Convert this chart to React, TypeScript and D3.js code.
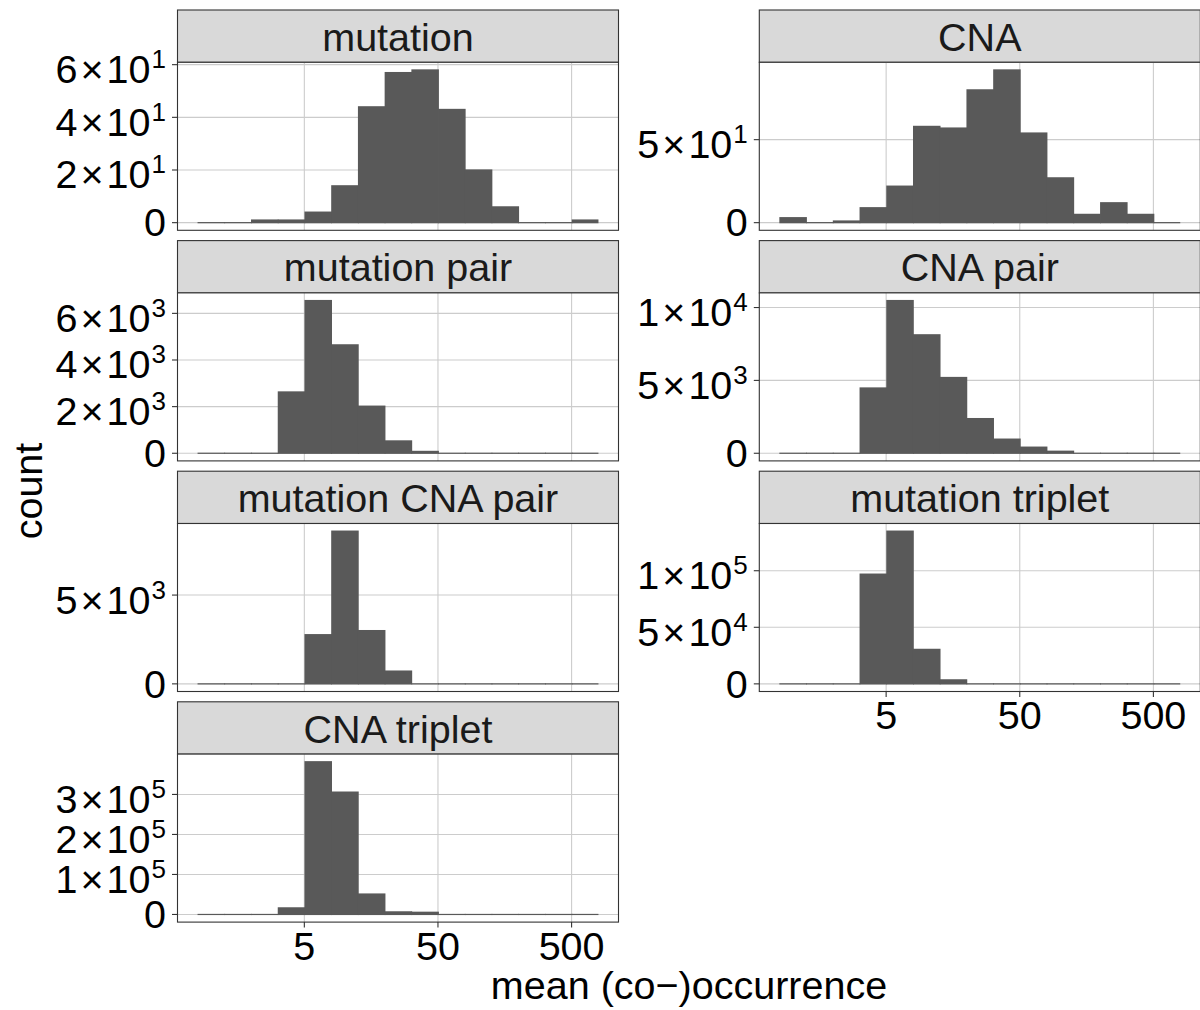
import React from 'react';
import * as d3 from 'd3';

// ---- data ----
const facetNames = [
  'mutation',
  'CNA',
  'mutation pair',
  'CNA pair',
  'mutation CNA pair',
  'mutation triplet',
  'CNA triplet',
];

// histogram bin edges on the mean (co-)occurrence axis (log-spaced bins)
const binEdges = [0.794, 1.259, 1.995, 3.162, 5.012, 7.943, 12.59, 19.95, 31.62, 50.12, 79.43, 125.9, 199.5, 316.2, 501.2, 794.3];

const countsMutation = [0, 0, 1, 1, 4, 14, 44, 57, 58, 43, 20, 6, 0, 0, 1];
const countsCNA = [3, 0, 1, 9, 22, 58, 57, 80, 92, 54, 27, 5, 12, 5, 0];
const countsMutationPair = [0, 0, 0, 2630, 6550, 4650, 2020, 530, 80, 0, 0, 0, 0, 0, 0];
const countsCNAPair = [0, 0, 0, 4480, 10480, 8130, 5200, 2380, 970, 420, 140, 0, 0, 0, 0];
const countsMutationCNAPair = [0, 0, 0, 0, 2770, 8600, 3000, 720, 0, 0, 0, 0, 0, 0, 0];
const countsMutationTriplet = [0, 0, 0, 97000, 135000, 30500, 3550, 0, 0, 0, 0, 0, 0, 0, 0];
const countsCNATriplet = [0, 0, 0, 16500, 381700, 305800, 51100, 6500, 5500, 0, 0, 0, 0, 0, 0];

const facetCounts = [
  countsMutation,
  countsCNA,
  countsMutationPair,
  countsCNAPair,
  countsMutationCNAPair,
  countsMutationTriplet,
  countsCNATriplet,
];

const yBreaksMutation = [0, 20, 40, 60];
const yBreaksCNA = [0, 50];
const yBreaksMutationPair = [0, 2000, 4000, 6000];
const yBreaksCNAPair = [0, 5000, 10000];
const yBreaksMutationCNAPair = [0, 5000];
const yBreaksMutationTriplet = [0, 50000, 100000];
const yBreaksCNATriplet = [0, 100000, 200000, 300000];

const facetBreaks = [
  yBreaksMutation,
  yBreaksCNA,
  yBreaksMutationPair,
  yBreaksCNAPair,
  yBreaksMutationCNAPair,
  yBreaksMutationTriplet,
  yBreaksCNATriplet,
];

const xTicks = [5, 50, 500];
const xTickLabels = ['5', '50', '500'];
const xTitle = 'mean (co\u2212)occurrence';
const yTitle = 'count';

// ---- layout ----
const W = 1200;
const H = 1010;
const colX = [177.5, 759.3];
const panelW = 441;
const rowTop = [10, 240.6, 471.2, 701.8];
const stripH = 52.3;
const panelH = 168;
const FONT = '"Liberation Sans", Arial, Helvetica, sans-serif';
const FS = 39.5;
const SUP = 26;
const dark = '#333333';
const gridCol = '#CCCCCC';
const barCol = '#595959';

function SciLabel({ x, y, v }: { x: number; y: number; v: number }) {
  if (v === 0) {
    return (
      <text x={x} y={y + 13.8} textAnchor="end" fontSize={FS} fill="#000">
        0
      </text>
    );
  }
  const e = Math.floor(Math.log10(v) + 1e-9);
  const m = Math.round(v / Math.pow(10, e));
  return (
    <text x={x} y={y + 18.5} textAnchor="end" fontSize={FS} fill="#000">
      <tspan>{m}</tspan>
      <tspan dx={3}>{'\u00D7'}</tspan>
      <tspan dx={3}>10</tspan>
      <tspan dx={1} dy={-15} fontSize={SUP}>
        {e}
      </tspan>
    </text>
  );
}

function Facet({ idx }: { idx: number }) {
  const col = idx % 2;
  const row = Math.floor(idx / 2);
  const x0 = colX[col];
  const top = rowTop[row];
  const py = top + stripH;
  const counts = facetCounts[idx];
  const breaks = facetBreaks[idx];
  const maxC = d3.max(counts) as number;

  const lo = Math.log10(binEdges[0]);
  const hi = Math.log10(binEdges[binEdges.length - 1]);
  const pad = (hi - lo) * 0.05;
  const x = d3
    .scaleLog()
    .domain([Math.pow(10, lo - pad), Math.pow(10, hi + pad)])
    .range([x0, x0 + panelW]);
  const y = d3
    .scaleLinear()
    .domain([-0.05 * maxC, 1.05 * maxC])
    .range([py + panelH, py]);

  const isBottom = (col === 0 && row === 3) || (col === 1 && row === 2);
  const nBins = counts.length;

  return (
    <g>
      {/* strip */}
      <rect x={x0} y={top} width={panelW} height={stripH} fill="#D9D9D9" stroke={dark} strokeWidth={1.1} />
      <text x={x0 + panelW / 2} y={top + 40.7} textAnchor="middle" fontSize={FS} fill="#1A1A1A">
        {facetNames[idx]}
      </text>
      {/* panel background */}
      <rect x={x0} y={py} width={panelW} height={panelH} fill="#fff" />
      {/* grid */}
      {breaks.map((b) => (
        <line key={'h' + b} x1={x0} x2={x0 + panelW} y1={y(b)} y2={y(b)} stroke={gridCol} strokeWidth={1.1} />
      ))}
      {xTicks.map((t) => (
        <line key={'v' + t} x1={x(t)} x2={x(t)} y1={py} y2={py + panelH} stroke={gridCol} strokeWidth={1.1} />
      ))}
      {/* bars */}
      {counts.map((c, i) => {
        const xa = x(binEdges[i]);
        const xb = x(binEdges[i + 1]);
        const ya = y(c);
        const yb = y(0);
        const overlap = i < nBins - 1 ? 0.8 : 0;
        return (
          <rect
            key={'b' + i}
            x={xa}
            y={ya - 0.6}
            width={xb - xa + overlap}
            height={yb - ya + 1.2}
            fill={barCol}
          />
        );
      })}
      {/* border */}
      <rect x={x0} y={py} width={panelW} height={panelH} fill="none" stroke={dark} strokeWidth={1.1} />
      {/* y ticks & labels */}
      {breaks.map((b) => (
        <g key={'yt' + b}>
          <line x1={x0 - 5.5} x2={x0} y1={y(b)} y2={y(b)} stroke={dark} strokeWidth={1.1} />
          <SciLabel x={x0 - 11.5} y={y(b)} v={b} />
        </g>
      ))}
      {/* x axis */}
      {isBottom &&
        xTicks.map((t, i) => (
          <g key={'xt' + t}>
            <line x1={x(t)} x2={x(t)} y1={py + panelH} y2={py + panelH + 5.5} stroke={dark} strokeWidth={1.1} />
            <text x={x(t)} y={py + panelH + 37.8} textAnchor="middle" fontSize={FS} fill="#000">
              {xTickLabels[i]}
            </text>
          </g>
        ))}
    </g>
  );
}

export default function App() {
  return (
    <svg
      width={W}
      height={H}
      viewBox={`0 0 ${W} ${H}`}
      style={{ position: 'absolute', left: 0, top: 0, display: 'block', background: '#fff' }}
      fontFamily={FONT}
    >
      <rect x={0} y={0} width={W} height={H} fill="#fff" />
      {facetNames.map((_, i) => (
        <Facet key={i} idx={i} />
      ))}
      <text x={689} y={999} textAnchor="middle" fontSize={FS} fill="#000">
        {xTitle}
      </text>
      <text transform="translate(42,491) rotate(-90)" textAnchor="middle" fontSize={FS} fill="#000">
        {yTitle}
      </text>
    </svg>
  );
}
